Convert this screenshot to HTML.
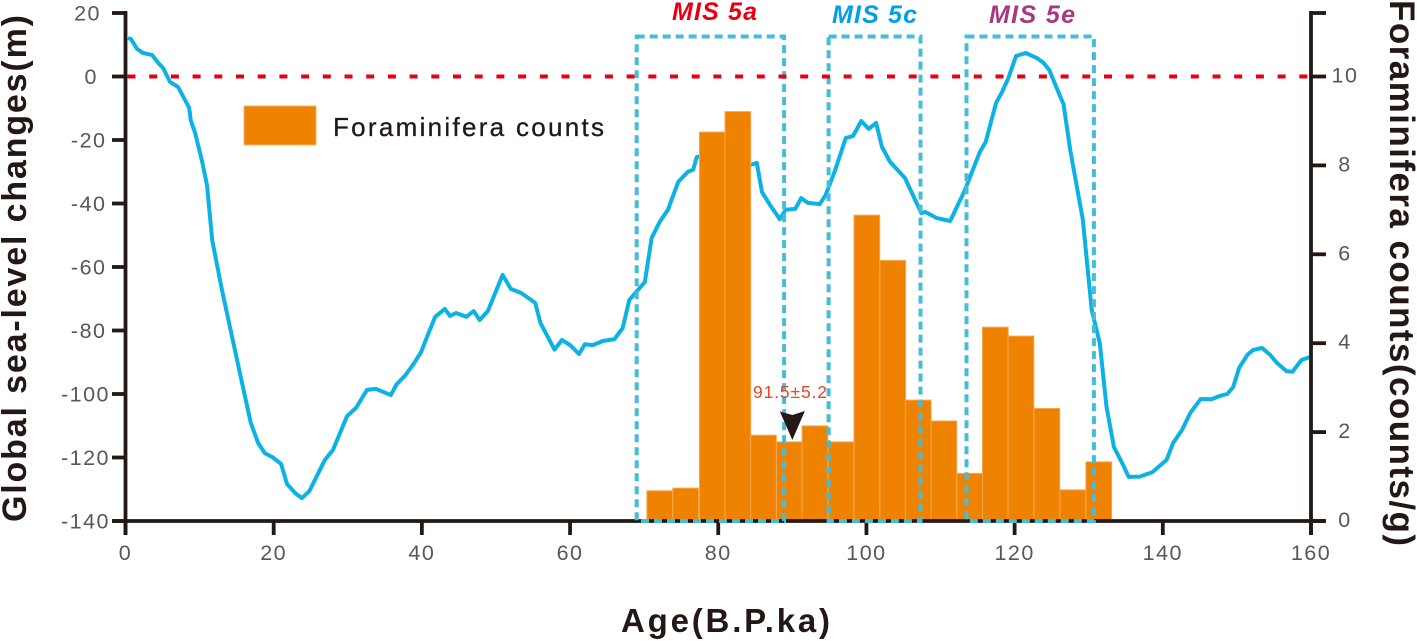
<!DOCTYPE html>
<html lang="en">
<head>
<meta charset="utf-8">
<title>Global sea-level changes and Foraminifera counts</title>
<style>
html,body{margin:0;padding:0;background:#fff;width:1417px;height:641px;overflow:hidden}
svg{display:block;font-family:"Liberation Sans",sans-serif}
.tick-label{font-size:21.5px;fill:#595757;letter-spacing:1.5px}
.axis-title{font-weight:bold;fill:#231815}
.mis{font-size:25px;font-weight:bold;font-style:italic}
</style>
</head>
<body>
<svg id="chart" width="1417" height="641" viewBox="0 0 1417 641" xmlns="http://www.w3.org/2000/svg">
  <g id="g-line"></g>
  <g id="g-bars"></g>
  <g id="g-axes"></g>
  <g id="g-boxes"></g>
  <g id="g-zero"></g>

  <text class="axis-title" font-size="34" transform="translate(26,522) rotate(-90)" textLength="507" lengthAdjust="spacing">Global sea-level changes(m)</text>
  <text class="axis-title" font-size="35" transform="translate(1390,0) rotate(90)" textLength="546" lengthAdjust="spacing">Foraminifera counts(counts/g)</text>
  <text class="axis-title" font-size="33" x="621" y="632" textLength="209" lengthAdjust="spacing">Age(B.P.ka)</text>

  <rect x="244" y="106" width="72" height="39" fill="#ef8200" stroke="#f6b469" stroke-width="1"/>
  <text x="333" y="136" font-size="26" fill="#231815" stroke="#231815" stroke-width="0.3" textLength="271" lengthAdjust="spacing">Foraminifera counts</text>

  <text class="mis" x="672" y="20" fill="#e60012" textLength="85" lengthAdjust="spacing">MIS 5a</text>
  <text class="mis" x="832" y="23" fill="#00a0e9" textLength="85" lengthAdjust="spacing">MIS 5c</text>
  <text class="mis" x="989" y="23" fill="#a63a82" textLength="86" lengthAdjust="spacing">MIS 5e</text>

  <text x="753" y="398" font-size="17.5" fill="#e8452a" textLength="74" lengthAdjust="spacing">91.5±5.2</text>
  <g id="g-arrow"></g>
</svg>
<script>
const seaAges = [0.34,0.74,1.55,2.36,3.58,4.4,5.06,6.0,7.1,7.6,8.6,8.8,9.4,10.3,11,11.7,13,15.5,16.9,17.9,18.8,19.9,21,21.8,22.9,23.8,24.8,26.9,28,29.9,31.1,32.6,33.8,35.8,36.6,37.7,38.9,39.9,40.8,41.8,43.1,43.8,44.6,46,47,47.8,48.9,50.9,52,53.4,55.3,56,57,57.9,58.9,60,61.2,62,63.1,64.4,66,67.1,68,70.1,71,72.1,73.2,74.6,75.9,76.6,77.1,77.8,80,82,84.3,85.2,85.9,87,88.3,89.1,90.4,91.2,92.1,93.7,94.5,95.8,97.2,98.2,99.3,100.3,101.3,102.1,103.2,105.2,107.4,108,109.5,111.3,113.3,115.3,116.1,117.5,118.3,119.1,120.2,121.5,123,123.9,124.7,125.8,126.6,127.5,128.4,129.2,130.4,131.5,132.4,133.4,134.5,135.4,136.9,138.6,140.5,141.4,142.6,143.7,145.1,146.6,147.7,148.7,149.5,150.3,151.4,152.2,153.4,154.5,155.4,156.7,157.5,158.7,159.8];
const seaLevels = [12.1,11.8,8.7,7.4,6.8,4.3,2.7,-1.7,-3.3,-5.5,-9.9,-13.7,-17.8,-26.3,-34.2,-51.5,-67,-94,-109,-115.4,-118.6,-120,-122,-128.3,-131.2,-132.8,-130.6,-120.8,-117.6,-107,-104.4,-98.7,-98.4,-100.3,-96.9,-94.3,-90.5,-86.8,-81.4,-75.7,-73.2,-75.4,-74.5,-75.7,-73.9,-76.7,-73.9,-62.5,-66.9,-68.2,-71.3,-77.6,-82,-86,-83,-84.6,-87.4,-84.3,-84.6,-83.3,-82.7,-79.2,-70.4,-64.7,-50.9,-45.8,-42,-33.2,-30,-29.4,-25.4,-25,-24,-26,-27.9,-27.2,-36.4,-40.5,-44.9,-42,-41.7,-38.3,-39.8,-40.2,-37.3,-29.4,-19.4,-18.7,-14,-16.5,-14.6,-22.2,-26.9,-32,-43,-42.7,-44.6,-45.5,-35.7,-23.8,-20.6,-8.3,-4.9,-0.8,6.5,7.4,5.8,4.3,2,-4.3,-8.7,-23.1,-34.8,-45,-73.5,-84,-104,-116.7,-121.7,-126.1,-126,-124.6,-120.8,-115.4,-111.3,-106,-101.6,-101.6,-100.6,-100,-97.8,-91.8,-87.7,-86.1,-85.5,-87.7,-90.2,-92.8,-93,-89.3,-88.4];
const binAges = [72.1,75.6,79.2,82.65,86.1,89.6,93.05,96.55,100.05,103.55,107,110.45,113.95,117.4,120.85,124.35,127.85,131.35];
const binCounts = [0.68,0.74,8.75,9.21,1.93,1.78,2.14,1.78,6.88,5.86,2.72,2.25,1.07,4.36,4.16,2.53,0.70,1.33];
const binWidthKa = 3.47;
const xTicks = [0,20,40,60,80,100,120,140,160];
const yTicks = [20,0,-20,-40,-60,-80,-100,-120,-140];
const rTicks = [10,8,6,4,2,0];
const misNames = ["5a","5c","5e"];
const misStart = [69.0,94.9,113.5];
const misEnd = [88.9,107.3,130.7];
const arrowAge = 90;

const NS = "http://www.w3.org/2000/svg";
const xScale = a => 125.5 + a * (1311 - 125.5) / 160;
const yScale = v => 76.5 - v * (521 - 76.5) / 140;
const rScale = c => 521 - c * 44.45;
const axisColor = "#231815";

function mk(tag, attrs, parent) {
  const el = document.createElementNS(NS, tag);
  for (const k in attrs) el.setAttribute(k, attrs[k]);
  parent.appendChild(el);
  return el;
}

const gLine = document.getElementById("g-line");
const gBars = document.getElementById("g-bars");
const gBoxes = document.getElementById("g-boxes");
const gZero = document.getElementById("g-zero");
const gAxes = document.getElementById("g-axes");
const gArrow = document.getElementById("g-arrow");

const seaPts = seaAges.map((a, i) => xScale(a).toFixed(1) + "," + yScale(seaLevels[i]).toFixed(1)).join(" ");
const seaLine = mk("polyline", {points: seaPts, fill: "none", stroke: "#0db2e4", "stroke-width": 4, "stroke-linejoin": "round"}, gLine);



binAges.forEach((a, i) => {
  const x0 = xScale(a - binWidthKa / 2);
  const x1 = xScale(a + binWidthKa / 2);
  const y0 = rScale(binCounts[i]);
  const bar = mk("rect", {x: x0.toFixed(1), y: y0.toFixed(1), width: (x1 - x0).toFixed(1), height: (rScale(0) - y0).toFixed(1), fill: "#ef8200", stroke: "#f5a64e", "stroke-width": 1}, gBars);
  
  
});

misNames.forEach((n, i) => {
  const x0 = xScale(misStart[i]);
  const x1 = xScale(misEnd[i]);
  const box = mk("rect", {x: x0.toFixed(1), y: 36.5, width: (x1 - x0).toFixed(1), height: 484.5, fill: "none", stroke: "#45bcd8", "stroke-width": 4, "stroke-dasharray": "8 5"}, gBoxes);
  
  
});

const zeroLine = mk("line", {x1: xScale(0) + 2, x2: xScale(160) - 2, y1: yScale(0), y2: yScale(0), stroke: "#e60012", "stroke-width": 4, "stroke-dasharray": "8 13.7"}, gZero);



const axisPaths = [
  [xScale(0), yScale(20) - 2, xScale(0), 535],
  [xScale(160), yScale(20) - 2, xScale(160), 535],
  [112, rScale(0), 1326, rScale(0)]
];
axisPaths.forEach(p => {
  const axl = mk("line", {x1: p[0], y1: p[1], x2: p[2], y2: p[3], stroke: axisColor, "stroke-width": 3.8}, gAxes);
  
  
});

xTicks.forEach(t => {
  const x = xScale(t);
  const tk = mk("line", {x1: x, x2: x, y1: 521, y2: 535, stroke: axisColor, "stroke-width": 3.8}, gAxes);
  
  
  const lb = mk("text", {x: x, y: 560, "text-anchor": "middle", class: "tick-label"}, gAxes);
  
  
  lb.textContent = t;
});

const labelRightEdge = s => s.length >= 4 ? 110 : s.length === 3 ? 106.5 : s.length === 2 ? 101 : 98;

yTicks.forEach(t => {
  const y = yScale(t);
  const tk = mk("line", {x1: 112, x2: 125.5, y1: y, y2: y, stroke: axisColor, "stroke-width": 3.8}, gAxes);
  
  
  const lb = mk("text", {x: labelRightEdge(String(t)), y: y + 7.5, "text-anchor": "end", class: "tick-label"}, gAxes);
  
  
  lb.textContent = String(t);
});

rTicks.forEach(t => {
  const y = rScale(t);
  const tk = mk("line", {x1: 1311, x2: 1326, y1: y, y2: y, stroke: axisColor, "stroke-width": 3.8}, gAxes);
  
  
  const lb = mk("text", {x: 1345, y: y + 6, "text-anchor": "middle", class: "tick-label"}, gAxes);
  
  
  lb.textContent = t;
});

const topTick = mk("line", {x1: 1311, x2: 1326, y1: 13, y2: 13, stroke: axisColor, "stroke-width": 3.8}, gAxes);



const ax = xScale(arrowAge);
const arrow = mk("polygon", {points: [(ax - 12.5) + ",411.5", ax + ",415", (ax + 12.5) + ",411", ax + ",440"].join(" "), fill: "#231815"}, gArrow);


</script>
</body>
</html>
